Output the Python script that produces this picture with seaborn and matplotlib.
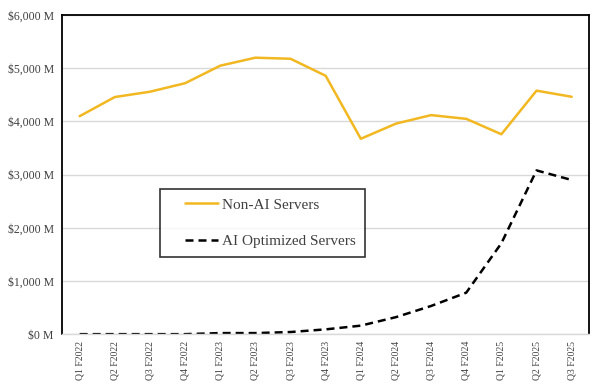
import matplotlib
matplotlib.use("Agg")
import matplotlib.pyplot as plt
import matplotlib.ticker as mticker
from matplotlib.legend_handler import HandlerLine2D
import seaborn as sns
import pandas as pd

# quarters on the x axis
quarters = ["Q1 F2022", "Q2 F2022", "Q3 F2022", "Q4 F2022",
            "Q1 F2023", "Q2 F2023", "Q3 F2023", "Q4 F2023",
            "Q1 F2024", "Q2 F2024", "Q3 F2024", "Q4 F2024",
            "Q1 F2025", "Q2 F2025", "Q3 F2025"]

# revenue in $ millions
non_ai = [4100, 4460, 4560, 4720, 5050, 5200, 5180, 4860,
          3675, 3960, 4120, 4050, 3760, 4580, 4465]
ai_opt = [0, 0, 0, 0, 20, 20, 40, 90,
          160, 320, 530, 780, 1710, 3080, 2900]

df = pd.DataFrame({"quarter": quarters, "Non-AI Servers": non_ai,
                   "AI Optimized Servers": ai_opt})
df["x"] = range(len(quarters))


# legend handle that leaves some empty room on its left side
class PaddedLine(HandlerLine2D):
    def create_artists(self, legend, orig_handle, xdescent, ydescent,
                       width, height, fontsize, trans):
        shift = 1.03 * fontsize
        return super().create_artists(legend, orig_handle, xdescent - shift,
                                      ydescent, width - shift, height,
                                      fontsize, trans)


sns.set_style("white")
plt.rcParams["font.family"] = ["Liberation Serif", "DejaVu Serif"]

fig, ax = plt.subplots(figsize=(5.97, 3.89), dpi=100)
fig.subplots_adjust(left=0.104, right=0.987, top=0.961, bottom=0.141)

sns.lineplot(data=df, x="x", y="Non-AI Servers", ax=ax, color="#F2B822",
             linewidth=1.8, label="Non-AI Servers")
sns.lineplot(data=df, x="x", y="AI Optimized Servers", ax=ax, color="black",
             linewidth=1.8, linestyle=(0, (3.2, 2)), label="AI Optimized Servers")

ax.set_ylim(0, 6000)
ax.set_xlim(-0.5, len(quarters) - 0.5)
ax.yaxis.set_major_locator(mticker.MultipleLocator(1000))
ax.yaxis.set_major_formatter(mticker.FuncFormatter(lambda v, p: f"${v:,.0f} M"))
ax.set_xticks(df["x"])
ax.set_xticklabels(quarters, rotation=90, fontsize=7, color="#404040")
ax.tick_params(axis="y", labelsize=8.5, labelcolor="#404040", length=0, pad=6)
ax.tick_params(axis="x", length=0, pad=5)
ax.set_xlabel("")
ax.set_ylabel("")
ax.grid(axis="y", color="#d9d9d9", linewidth=1)
ax.set_axisbelow(True)

for side in ["left", "top", "right"]:
    ax.spines[side].set_color("black")
    ax.spines[side].set_linewidth(1.3)
ax.spines["bottom"].set_color("#d9d9d9")
ax.spines["bottom"].set_linewidth(1)

handles, labels = ax.get_legend_handles_labels()
leg = ax.legend(handles, labels, loc="upper left",
                bbox_to_anchor=(0.185, 0.456), fontsize=11,
                frameon=True, fancybox=False, edgecolor="black",
                handlelength=3.2, handletextpad=0.26, labelspacing=1.5,
                borderpad=0.6, borderaxespad=0,
                handler_map={h: PaddedLine() for h in handles})
leg.get_frame().set_linewidth(1.2)
for t in leg.get_texts():
    t.set_color("#404040")

fig.savefig("out.png", dpi=100)
